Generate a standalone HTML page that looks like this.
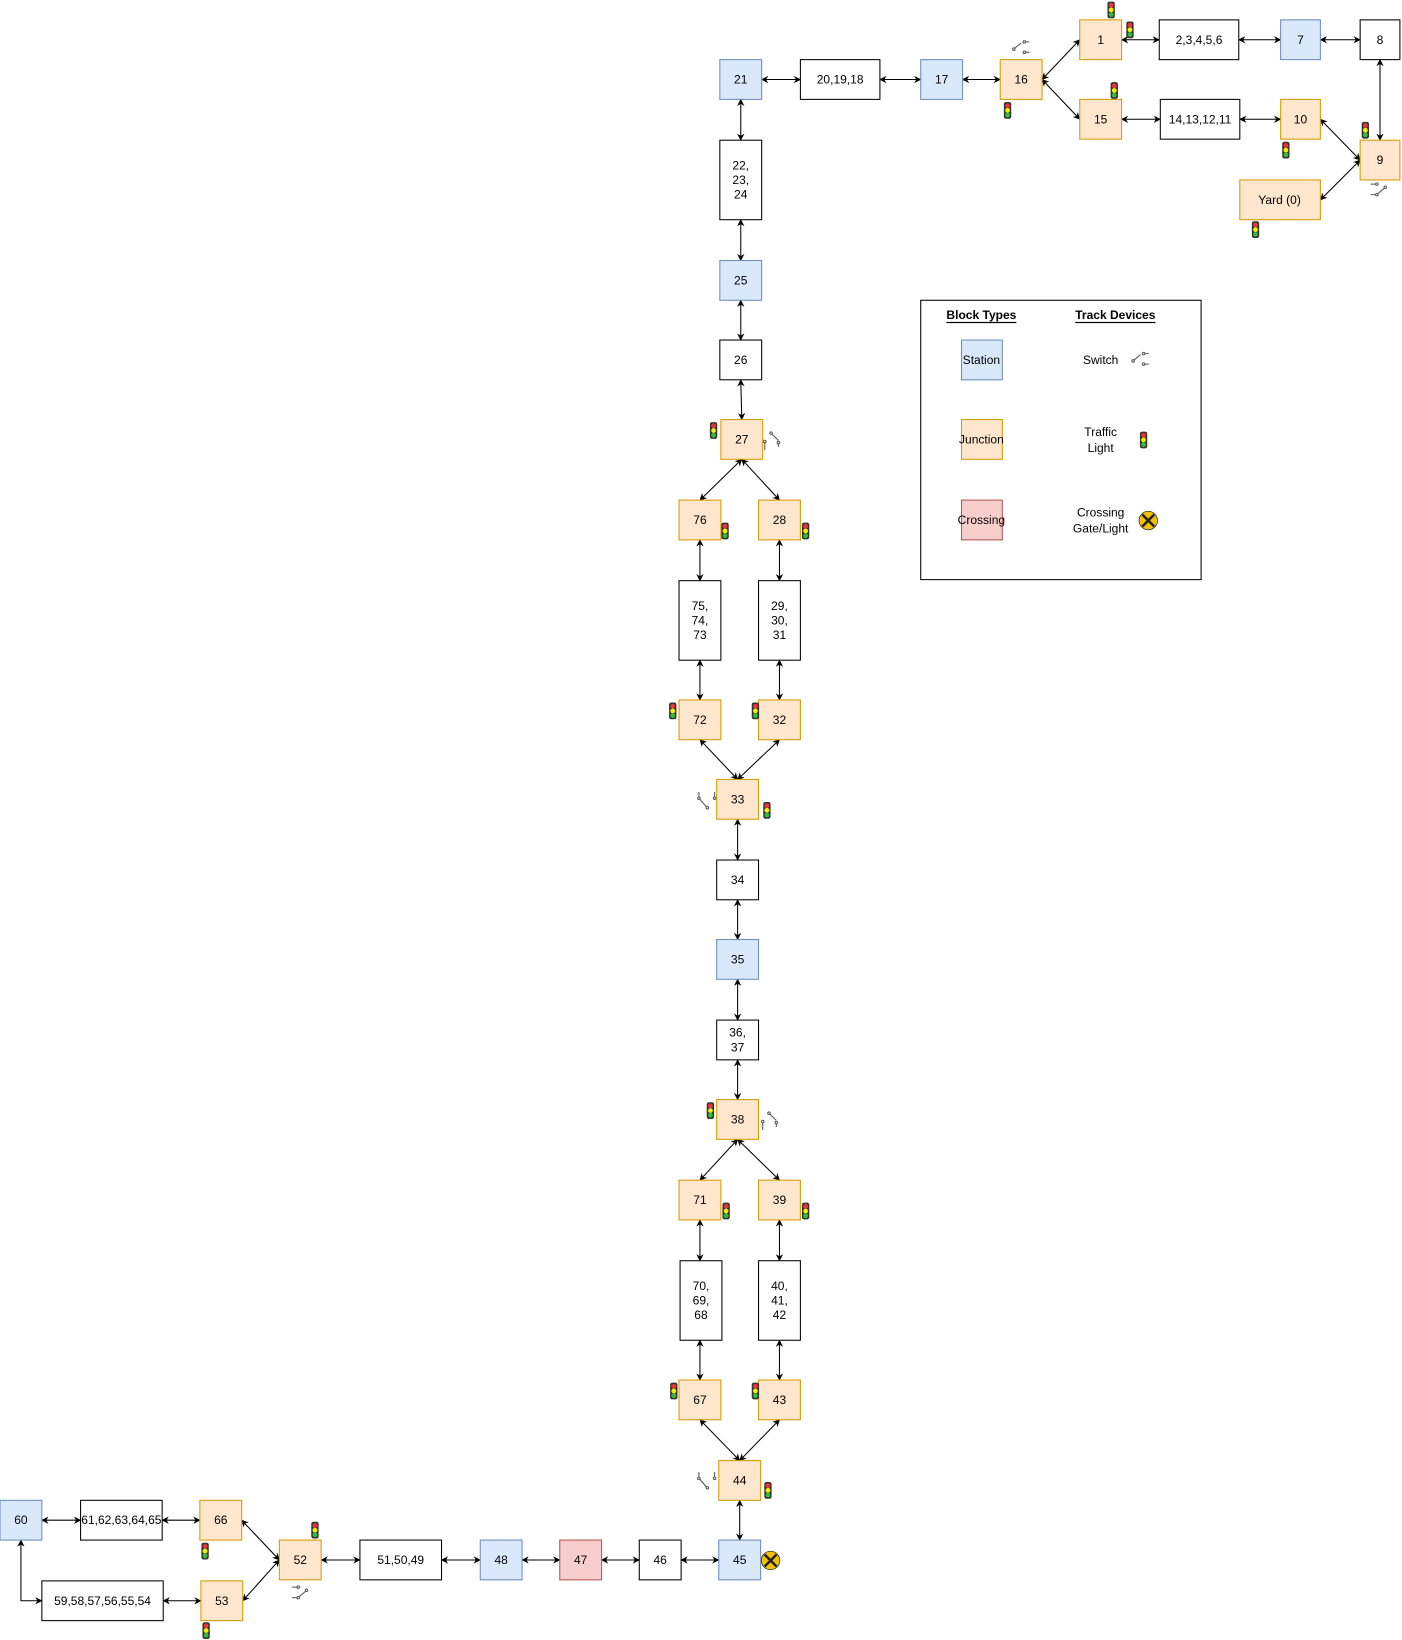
<!DOCTYPE html>
<html><head><meta charset="utf-8"><style>
html,body{margin:0;padding:0;background:#fff;}
svg{display:block;}
text{font-family:"Liberation Sans",Arial,sans-serif;font-size:11.5px;fill:#000;text-anchor:middle;dominant-baseline:central;}
</style></head><body>
<svg width="1402" height="1640" viewBox="0 0 1340 1567.5" xmlns="http://www.w3.org/2000/svg">
<defs>
<marker id="a" viewBox="0 0 10 10" refX="9" refY="5" markerWidth="7" markerHeight="7" orient="auto-start-reverse" markerUnits="userSpaceOnUse">
<path d="M0,0 L10,5 L0,10 L3,5 z" fill="#000"/></marker>
<symbol id="tl" viewBox="0 0 8 17"><rect x="0.5" y="0.5" width="7" height="16" rx="2" fill="#333"/><circle cx="4" cy="4" r="2.3" fill="#e33"/><circle cx="4" cy="8.5" r="2.3" fill="#ee0"/><circle cx="4" cy="13" r="2.3" fill="#3b3"/></symbol>
<symbol id="sw" viewBox="0 0 20 16"><circle cx="3" cy="10" r="1.2" fill="none" stroke="#555"/><line x1="4" y1="9" x2="10" y2="4" stroke="#555"/><circle cx="13" cy="3" r="1.2" fill="none" stroke="#555"/><line x1="14" y1="3" x2="18" y2="3" stroke="#555"/><circle cx="13" cy="13" r="1.2" fill="none" stroke="#555"/><line x1="14" y1="13" x2="18" y2="13" stroke="#555"/></symbol>
<symbol id="sw2" viewBox="0 0 20 16"><circle cx="8" cy="3" r="1.2" fill="none" stroke="#555"/><line x1="2" y1="3" x2="7" y2="3" stroke="#555"/><circle cx="8" cy="13" r="1.2" fill="none" stroke="#555"/><line x1="2" y1="13" x2="7" y2="13" stroke="#555"/><line x1="9" y1="12" x2="15" y2="7" stroke="#555"/><circle cx="16" cy="6" r="1.2" fill="none" stroke="#555"/></symbol>
<symbol id="sw3" viewBox="0 0 20 16"><circle cx="3" cy="2" r="1.2" fill="none" stroke="#555"/><line x1="4" y1="3" x2="10" y2="9" stroke="#555"/><circle cx="10" cy="11" r="1.2" fill="none" stroke="#555"/><line x1="10" y1="12" x2="10" y2="15" stroke="#555"/><circle cx="-3" cy="11" r="1.2" fill="none" stroke="#555"/></symbol>
<symbol id="xg" viewBox="0 0 20 20"><circle cx="10" cy="10" r="9.3" fill="#f2c200" stroke="#333" stroke-width="0.8"/><line x1="4" y1="4" x2="16" y2="16" stroke="#222" stroke-width="2.5"/><line x1="16" y1="4" x2="4" y2="16" stroke="#222" stroke-width="2.5"/></symbol>
</defs>

<!-- connectors -->
<g stroke="#000" stroke-width="1" fill="none" marker-start="url(#a)" marker-end="url(#a)">
<line x1="728" y1="76" x2="765" y2="76"/>
<line x1="841" y1="76" x2="880" y2="76"/>
<line x1="920" y1="76" x2="956" y2="76"/>
<line x1="996" y1="76" x2="1032" y2="38"/>
<line x1="996" y1="76" x2="1032" y2="114"/>
<line x1="1072" y1="38" x2="1108" y2="38"/>
<line x1="1184" y1="38" x2="1224" y2="38"/>
<line x1="1262" y1="38" x2="1300" y2="38"/>
<line x1="1319" y1="57" x2="1319" y2="134"/>
<line x1="1072" y1="114" x2="1109" y2="114"/>
<line x1="1185" y1="114" x2="1224" y2="114"/>
<line x1="1262" y1="114" x2="1300" y2="153"/>
<line x1="1300" y1="153" x2="1262" y2="191"/>
<line x1="708" y1="95" x2="708" y2="134"/>
<line x1="708" y1="210" x2="708" y2="249"/>
<line x1="708" y1="287" x2="708" y2="325"/>
<line x1="708" y1="363" x2="709" y2="401"/>
<line x1="709" y1="439" x2="669" y2="478"/>
<line x1="709" y1="439" x2="745" y2="478"/>
<line x1="669" y1="516" x2="669" y2="555"/>
<line x1="745" y1="516" x2="745" y2="555"/>
<line x1="669" y1="631" x2="669" y2="669"/>
<line x1="745" y1="631" x2="745" y2="669"/>
<line x1="669" y1="707" x2="705" y2="745"/>
<line x1="745" y1="707" x2="705" y2="745"/>
<line x1="705" y1="783" x2="705" y2="822"/>
<line x1="705" y1="860" x2="705" y2="898"/>
<line x1="705" y1="936" x2="705" y2="975"/>
<line x1="705" y1="1013" x2="705" y2="1051"/>
<line x1="705" y1="1089" x2="669" y2="1128"/>
<line x1="705" y1="1089" x2="745" y2="1128"/>
<line x1="669" y1="1166" x2="669" y2="1205"/>
<line x1="745" y1="1166" x2="745" y2="1205"/>
<line x1="669" y1="1281" x2="669" y2="1319"/>
<line x1="745" y1="1281" x2="745" y2="1319"/>
<line x1="669" y1="1357" x2="707" y2="1396"/>
<line x1="745" y1="1357" x2="707" y2="1396"/>
<line x1="707" y1="1434" x2="707" y2="1472"/>
<line x1="651" y1="1491" x2="687" y2="1491"/>
<line x1="575" y1="1491" x2="611" y2="1491"/>
<line x1="499" y1="1491" x2="535" y2="1491"/>
<line x1="422" y1="1491" x2="459" y2="1491"/>
<line x1="307" y1="1491" x2="344" y2="1491"/>
<line x1="267" y1="1491" x2="231" y2="1453"/>
<line x1="267" y1="1491" x2="232" y2="1530"/>
<line x1="155" y1="1453" x2="191" y2="1453"/>
<line x1="40" y1="1453" x2="77" y2="1453"/>
<line x1="156" y1="1530" x2="192" y2="1530"/>
<polyline points="20,1472 20,1530 40,1530"/>
</g>

<!-- boxes -->
<g stroke-width="1">
<g fill="#fff" stroke="#000">
<rect x="1108" y="19" width="76" height="38"/><rect x="1300" y="19" width="38" height="38"/>
<rect x="765" y="57" width="76" height="38"/><rect x="1109" y="95" width="76" height="38"/>
<rect x="688" y="134" width="40" height="76"/><rect x="688" y="325" width="40" height="38"/>
<rect x="649" y="555" width="40" height="76"/><rect x="725" y="555" width="40" height="76"/>
<rect x="685" y="822" width="40" height="38"/><rect x="685" y="975" width="40" height="38"/>
<rect x="650" y="1205" width="40" height="76"/><rect x="725" y="1205" width="40" height="76"/>
<rect x="611" y="1472" width="40" height="38"/><rect x="344" y="1472" width="78" height="38"/>
<rect x="77" y="1434" width="78" height="38"/><rect x="40" y="1511" width="116" height="38"/>
</g>
<g fill="#dae8fc" stroke="#6c8ebf">
<rect x="1224" y="19" width="38" height="38"/><rect x="688" y="57" width="40" height="38"/>
<rect x="880" y="57" width="40" height="38"/><rect x="688" y="249" width="40" height="38"/>
<rect x="685" y="898" width="40" height="38"/><rect x="687" y="1472" width="40" height="38"/>
<rect x="459" y="1472" width="40" height="38"/><rect x="0" y="1434" width="40" height="38"/>
<rect x="919" y="325" width="39" height="38"/>
</g>
<g fill="#ffe6cc" stroke="#d79b00">
<rect x="1032" y="19" width="40" height="38"/><rect x="956" y="57" width="40" height="38"/>
<rect x="1032" y="95" width="40" height="38"/><rect x="1224" y="95" width="38" height="38"/>
<rect x="1300" y="134" width="38" height="38"/><rect x="1185" y="172" width="77" height="38"/>
<rect x="689" y="401" width="40" height="38"/>
<rect x="649" y="478" width="40" height="38"/><rect x="725" y="478" width="40" height="38"/>
<rect x="649" y="669" width="40" height="38"/><rect x="725" y="669" width="40" height="38"/>
<rect x="685" y="745" width="40" height="38"/><rect x="685" y="1051" width="40" height="38"/>
<rect x="649" y="1128" width="40" height="38"/><rect x="725" y="1128" width="40" height="38"/>
<rect x="649" y="1319" width="40" height="38"/><rect x="725" y="1319" width="40" height="38"/>
<rect x="687" y="1396" width="40" height="38"/>
<rect x="267" y="1472" width="40" height="38"/><rect x="191" y="1434" width="40" height="38"/>
<rect x="192" y="1511" width="40" height="38"/>
<rect x="919" y="401" width="39" height="38"/>
</g>
<g fill="#f8cecc" stroke="#b85450">
<rect x="535" y="1472" width="40" height="38"/><rect x="919" y="478" width="39" height="38"/>
</g>
<rect x="880" y="287" width="268" height="267" fill="none" stroke="#000"/>
</g>

<!-- labels -->
<text x="1052" y="38">1</text><text x="1146" y="38">2,3,4,5,6</text><text x="1243" y="38">7</text><text x="1319" y="38">8</text>
<text x="708" y="76">21</text><text x="803" y="76">20,19,18</text><text x="900" y="76">17</text><text x="976" y="76">16</text>
<text x="1052" y="114">15</text><text x="1147" y="114">14,13,12,11</text><text x="1243" y="114">10</text>
<text x="1319" y="153">9</text><text x="1223" y="191">Yard (0)</text>
<text x="708" y="158">22,</text><text x="708" y="172">23,</text><text x="708" y="186">24</text>
<text x="708" y="268">25</text><text x="708" y="344">26</text><text x="709" y="420">27</text>
<text x="669" y="497">76</text><text x="745" y="497">28</text>
<text x="669" y="579">75,</text><text x="669" y="593">74,</text><text x="669" y="607">73</text>
<text x="745" y="579">29,</text><text x="745" y="593">30,</text><text x="745" y="607">31</text>
<text x="669" y="688">72</text><text x="745" y="688">32</text><text x="705" y="764">33</text>
<text x="705" y="841">34</text><text x="705" y="917">35</text>
<text x="705" y="987">36,</text><text x="705" y="1001">37</text>
<text x="705" y="1070">38</text><text x="669" y="1147">71</text><text x="745" y="1147">39</text>
<text x="670" y="1229">70,</text><text x="670" y="1243">69,</text><text x="670" y="1257">68</text>
<text x="745" y="1229">40,</text><text x="745" y="1243">41,</text><text x="745" y="1257">42</text>
<text x="669" y="1338">67</text><text x="745" y="1338">43</text><text x="707" y="1415">44</text>
<text x="707" y="1491">45</text><text x="631" y="1491">46</text><text x="555" y="1491">47</text>
<text x="479" y="1491">48</text><text x="383" y="1491">51,50,49</text><text x="287" y="1491">52</text>
<text x="211" y="1453">66</text><text x="212" y="1530">53</text>
<text x="116" y="1453">61,62,63,64,65</text><text x="20" y="1453">60</text>
<text x="98" y="1530">59,58,57,56,55,54</text>
<text x="938" y="301" style="font-weight:bold;text-decoration:underline">Block Types</text>
<text x="1066" y="301" style="font-weight:bold;text-decoration:underline">Track Devices</text>
<text x="938" y="344">Station</text><text x="938" y="420">Junction</text><text x="938" y="497">Crossing</text>
<text x="1052" y="344">Switch</text>
<text x="1052" y="413">Traffic</text><text x="1052" y="428">Light</text>
<text x="1052" y="490">Crossing</text><text x="1052" y="505">Gate/Light</text>

<!-- traffic lights -->
<g>
<use href="#tl" x="1058" y="1" width="8" height="17"/>
<use href="#tl" x="1076" y="20" width="8" height="17"/>
<use href="#tl" x="959" y="97" width="8" height="17"/>
<use href="#tl" x="1061" y="78" width="8" height="17"/>
<use href="#tl" x="1225" y="135" width="8" height="17"/>
<use href="#tl" x="1301" y="116" width="8" height="17"/>
<use href="#tl" x="1196" y="211" width="8" height="17"/>
<use href="#tl" x="678" y="403" width="8" height="17"/>
<use href="#tl" x="689" y="499" width="8" height="17"/>
<use href="#tl" x="766" y="499" width="8" height="17"/>
<use href="#tl" x="639" y="671" width="8" height="17"/>
<use href="#tl" x="718" y="671" width="8" height="17"/>
<use href="#tl" x="729" y="766" width="8" height="17"/>
<use href="#tl" x="675" y="1053" width="8" height="17"/>
<use href="#tl" x="690" y="1149" width="8" height="17"/>
<use href="#tl" x="766" y="1149" width="8" height="17"/>
<use href="#tl" x="640" y="1321" width="8" height="17"/>
<use href="#tl" x="718" y="1321" width="8" height="17"/>
<use href="#tl" x="730" y="1416" width="8" height="17"/>
<use href="#tl" x="297" y="1454" width="8" height="17"/>
<use href="#tl" x="192" y="1474" width="8" height="17"/>
<use href="#tl" x="193" y="1550" width="8" height="17"/>
<use href="#tl" x="1089" y="412" width="8" height="17"/>
</g>
<!-- switches -->
<use href="#sw" x="966" y="37" width="20" height="16"/>
<use href="#sw" x="1080" y="335" width="20" height="16"/>
<use href="#sw2" x="1308" y="173" width="20" height="16"/>
<use href="#sw2" x="277" y="1514" width="20" height="16"/>
<use href="#sw3" x="734" y="410" width="20" height="20"/>
<g stroke="#555" fill="none"><line x1="731" y1="423" x2="731" y2="430"/><circle cx="731" cy="422" r="1.2"/></g>
<use href="#sw3" x="732" y="1060" width="20" height="20"/>
<g stroke="#555" fill="none"><line x1="729" y1="1073" x2="729" y2="1080"/><circle cx="729" cy="1072" r="1.2"/></g>
<g stroke="#555" fill="none">
<circle cx="668" cy="763" r="1.2"/><line x1="668" y1="757" x2="668" y2="762"/><line x1="669" y1="764" x2="675" y2="771"/><circle cx="676" cy="772" r="1.2"/>
<circle cx="683" cy="763" r="1.2"/><line x1="683" y1="757" x2="683" y2="762"/>
<circle cx="668" cy="1413" r="1.2"/><line x1="668" y1="1407" x2="668" y2="1412"/><line x1="669" y1="1414" x2="675" y2="1421"/><circle cx="676" cy="1422" r="1.2"/>
<circle cx="683" cy="1413" r="1.2"/><line x1="683" y1="1407" x2="683" y2="1412"/>
</g>
<!-- crossing icons -->
<use href="#xg" x="727" y="1482" width="19" height="19"/>
<use href="#xg" x="1088" y="488" width="19" height="19"/>
</svg>
</body></html>
